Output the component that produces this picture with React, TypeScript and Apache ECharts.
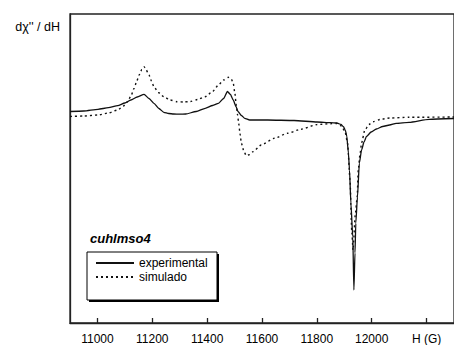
import React, { useEffect, useRef } from "react";
import * as echarts from "echarts";

// Magnetic field H (G) and derivative signal (arbitrary units)
const fieldExp = [10900, 10950, 11002, 11040, 11074, 11100, 11122, 11145, 11170, 11188, 11206, 11224, 11242, 11260, 11278, 11300, 11322, 11360, 11393, 11420, 11441, 11460, 11474, 11485, 11495, 11505, 11513, 11525, 11537, 11555, 11621, 11717, 11801, 11850, 11873, 11888, 11897, 11904, 11909, 11915, 11919, 11924, 11931, 11935, 11939, 11942, 11948, 11955, 11963, 11972, 11981, 11998, 12017, 12040, 12065, 12089, 12136, 12209, 12300];
const expValues = [3.5, 4, 5.7, 7.3, 9.3, 12, 15, 18, 20.7, 16.5, 11.7, 6.5, 2.7, 1.5, 1, 0.8, 1, 3.5, 6.7, 9.5, 11.7, 16.5, 23.5, 20.5, 15, 8.5, 3.3, -0.5, -3.3, -5, -5, -5.5, -7, -7.6, -8, -9.5, -11.7, -15.5, -21, -38, -55, -88, -122, -175, -138, -108, -82, -48, -35, -27, -21.5, -17, -14, -11.5, -10, -8.3, -7.3, -4.3, -3.5];

const fieldSim = [10900, 10950, 11002, 11040, 11074, 11095, 11110, 11122, 11134, 11143, 11152, 11162, 11170, 11178, 11188, 11197, 11206, 11222, 11242, 11265, 11290, 11315, 11339, 11365, 11393, 11420, 11441, 11460, 11477, 11488, 11495, 11501, 11506, 11511, 11515, 11520, 11525, 11534, 11543, 11555, 11567, 11597, 11645, 11693, 11741, 11801, 11850, 11873, 11890, 11903, 11912, 11921, 11927, 11932, 11940, 11947, 11951, 11957, 11963, 11975, 11990, 12005, 12030, 12065, 12136, 12300];
const simValues = [-1.5, -1, 0, 2, 5, 9, 13.3, 19, 26.7, 33.5, 40, 45.5, 48.3, 45, 40, 34, 28.3, 22.5, 18.3, 15, 13.3, 13, 13.5, 15.5, 18.3, 23.5, 30, 35, 37.7, 36, 32, 22, 10, 0, -8.3, -19, -28.3, -36.5, -40.7, -39.5, -36.7, -30, -23.3, -18.3, -14.3, -9.5, -8.7, -8.5, -11, -17, -28.3, -65, -115, -135, -100, -82, -55, -40, -28, -15, -9.5, -6.7, -4.5, -3, -2.3, -2];

const tickValues = [11000, 11200, 11400, 11600, 11800, 12000, 12200];
const axisTitleX = "H (G)";
const axisTitleY = "d\u03C7'' / dH";
const sampleName = "cuhlmso4";
const seriesNames = ["experimental", "simulado"];

const FONT = "'Liberation Sans', Arial, sans-serif";

export default function App() {
  const ref = useRef<HTMLDivElement>(null);
  useEffect(() => {
    if (!ref.current) return;
    const chart = echarts.init(ref.current, undefined, { renderer: "svg" });
    const exp = fieldExp.map((h, i) => [h, expValues[i]]);
    const sim = fieldSim.map((h, i) => [h, simValues[i]]);
    chart.setOption({
      animation: false,
      backgroundColor: "#fff",
      textStyle: { fontFamily: FONT },
      grid: {
        left: 70,
        top: 14,
        width: 388.5,
        height: 309,
        show: true,
        borderColor: "#222",
        borderWidth: 1.3,
        containLabel: false,
      },
      xAxis: {
        type: "value",
        min: 10900,
        max: 12300,
        axisLine: { show: true, onZero: false, lineStyle: { color: "#222", width: 1.3 } },
        axisTick: {
          show: true,
          inside: true,
          length: 5,
          customValues: tickValues,
          lineStyle: { color: "#222", width: 1.3 },
        },
        axisLabel: {
          customValues: tickValues,
          color: "#000",
          fontSize: 12,
          fontFamily: FONT,
          margin: 10,
          formatter: (v: number) => (v === 12200 ? axisTitleX : String(v)),
        },
        splitLine: { show: false },
      },
      yAxis: {
        type: "value",
        min: -208,
        max: 101,
        name: axisTitleY,
        nameLocation: "end",
        nameGap: -13,
        nameTextStyle: {
          color: "#000",
          fontSize: 12.5,
          fontFamily: FONT,
          align: "right",
          verticalAlign: "middle",
          padding: [0, 10, 0, 0],
        },
        axisLine: { show: true, onZero: false, lineStyle: { color: "#222", width: 1.3 } },
        axisTick: { show: false },
        axisLabel: { show: false },
        splitLine: { show: false },
      },
      legend: {
        orient: "vertical",
        left: 95,
        top: 257,
        itemWidth: 38,
        itemHeight: 14,
        itemGap: 2,
        padding: 0,
        itemStyle: { opacity: 0 },
        textStyle: { color: "#000", fontSize: 12, fontFamily: FONT },
        data: seriesNames,
        z: 10,
      },
      graphic: [
        {
          type: "rect",
          shape: { x: 89, y: 254, width: 130, height: 48 },
          style: { fill: "#000" },
          z: 1,
          silent: true,
        },
        {
          type: "rect",
          shape: { x: 87, y: 252, width: 130, height: 48 },
          style: { fill: "#fff", stroke: "#000", lineWidth: 1 },
          z: 2,
          silent: true,
        },
        {
          type: "text",
          x: 90,
          y: 238,
          style: {
            text: sampleName,
            fill: "#000",
            font: `italic bold 13px ${FONT}`,
            verticalAlign: "middle",
          },
          z: 3,
        },
      ],
      series: [
        {
          name: seriesNames[0],
          type: "line",
          data: exp,
          showSymbol: false,
          symbol: "none",
          smooth: 0.2,
          smoothMonotone: "x",
          lineStyle: { color: "#111", width: 1.3, type: "solid" },
          itemStyle: { color: "#111" },
          z: 3,
        },
        {
          name: seriesNames[1],
          type: "line",
          data: sim,
          showSymbol: false,
          symbol: "none",
          smooth: 0.2,
          smoothMonotone: "x",
          lineStyle: { color: "#111", width: 1.4, type: [2, 3] },
          itemStyle: { color: "#111" },
          z: 2,
        },
      ],
    });
    return () => chart.dispose();
  }, []);
  return (
    <div
      ref={ref}
      style={{ position: "absolute", left: 0, top: 0, width: 454, height: 345 }}
    />
  );
}
